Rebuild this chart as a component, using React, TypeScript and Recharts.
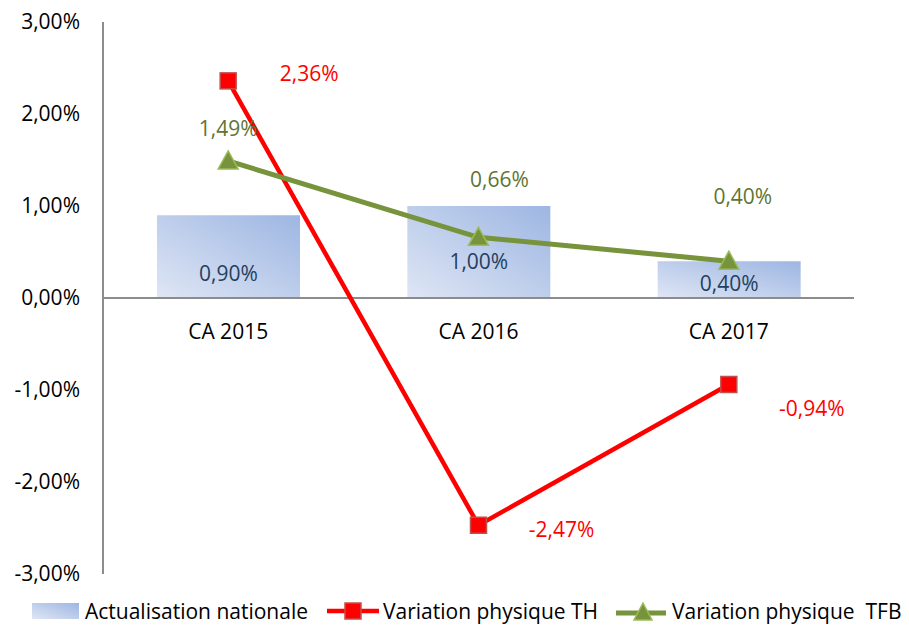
import { ComposedChart, Bar, Line, XAxis, YAxis, ReferenceLine, LabelList } from 'recharts';

const categories = ['CA 2015', 'CA 2016', 'CA 2017'];
const actualisation = [0.9, 1.0, 0.4];
const variationTH = [2.36, -2.47, -0.94];
const variationTFB = [1.49, 0.66, 0.4];
const yTicks = [-3, -2, -1, 0, 1, 2, 3];
const seriesNames = ['Actualisation nationale', 'Variation physique TH', 'Variation physique  TFB'];

// label nudges (dx, dy) per category, as placed by hand in the original
const barLabelShift = [[0, 19], [0, 11], [0, 6]];
const thLabelShift = [[81, -6], [83, 6], [83, 26]];
const tfbLabelShift = [[0, -31], [21, -56], [14, -63]];

const data = categories.map((cat, i) => ({
  cat,
  nat: actualisation[i],
  th: variationTH[i],
  tfb: variationTFB[i],
}));

const W = 909;
const H = 628;
const PLOT_TOP = 22;
const PLOT_BOTTOM = 574;
const FONT = '"Open Sans", sans-serif';
const Y_MIN = yTicks[0];
const Y_MAX = yTicks[yTicks.length - 1];
const zeroY = PLOT_TOP + ((PLOT_BOTTOM - PLOT_TOP) * Y_MAX) / (Y_MAX - Y_MIN);

const pct = (v: number) => v.toFixed(2).replace('.', ',') + '%';

const CategoryTick = ({ x, payload }: any) => (
  <text x={x} y={zeroY + 41} textAnchor="middle" fill="#000" fontSize={21} fontFamily={FONT}>
    {payload.value}
  </text>
);

const SquareDot = ({ cx, cy }: any) => (
  <rect x={cx - 8} y={cy - 8} width={16} height={16} fill="#ff0000" stroke="#c0504d" strokeWidth={1.5} />
);

const TriangleDot = ({ cx, cy }: any) => (
  <path
    d={`M${cx},${cy - 10} L${cx + 10},${cy + 8} L${cx - 10},${cy + 8} Z`}
    fill="#77933c"
    stroke="#9bbb59"
    strokeWidth={1.5}
  />
);

const barLabel = ({ x, y, width, height, value, index }: any) => (
  <text
    x={x + width / 2 + barLabelShift[index][0]}
    y={y + height / 2 + barLabelShift[index][1]}
    textAnchor="middle"
    dominantBaseline="middle"
    fill="#243f60"
    fontSize={21}
    fontFamily={FONT}
  >
    {pct(value)}
  </text>
);

const thLabel = ({ x, y, value, index }: any) => (
  <text
    x={x + thLabelShift[index][0]}
    y={y + thLabelShift[index][1]}
    textAnchor="middle"
    dominantBaseline="middle"
    fill="#ff0000"
    fontSize={21}
    fontFamily={FONT}
  >
    {pct(value)}
  </text>
);

const tfbLabel = ({ x, y, value, index }: any) => (
  <text
    x={x + tfbLabelShift[index][0]}
    y={y + tfbLabelShift[index][1]}
    textAnchor="middle"
    dominantBaseline="middle"
    fill="#5f7530"
    fontSize={21}
    fontFamily={FONT}
  >
    {pct(value)}
  </text>
);

function LegendRow() {
  const text = { fontSize: 21, color: '#000', display: 'inline-block' };
  return (
    <div
      style={{
        position: 'absolute',
        left: 32,
        top: 597,
        display: 'flex',
        alignItems: 'center',
        fontFamily: FONT,
        whiteSpace: 'pre',
      }}
    >
      <svg width={47} height={16} style={{ marginRight: 6 }}>
        <defs>
          <linearGradient id="legGrad" x1="0" y1="1" x2="1" y2="0">
            <stop offset="0%" stopColor="#dfe6f5" />
            <stop offset="100%" stopColor="#9db6e2" />
          </linearGradient>
        </defs>
        <rect x={0} y={0} width={47} height={16} fill="url(#legGrad)" />
      </svg>
      <span style={{ ...text, width: 242 }}>{seriesNames[0]}</span>
      <svg width={52} height={20} style={{ marginRight: 4 }}>
        <line x1={0} y1={10} x2={52} y2={10} stroke="#ff0000" strokeWidth={4.5} />
        <rect x={18} y={2} width={16} height={16} fill="#ff0000" stroke="#c0504d" strokeWidth={1.5} />
      </svg>
      <span style={{ ...text, width: 233 }}>{seriesNames[1]}</span>
      <svg width={50} height={20} style={{ marginRight: 6 }}>
        <line x1={0} y1={12} x2={50} y2={12} stroke="#77933c" strokeWidth={5} />
        <path d="M27,2 L36,19 L18,19 Z" fill="#77933c" stroke="#9bbb59" strokeWidth={1.5} />
      </svg>
      <span style={text}>{seriesNames[2]}</span>
    </div>
  );
}

export default function App() {
  return (
    <div style={{ position: 'relative', width: W, height: H, background: '#fff' }}>
      <style>{'body{margin:0}'}</style>
      <ComposedChart
        width={W}
        height={H}
        data={data}
        margin={{ top: PLOT_TOP, right: W - 854, left: 0, bottom: H - PLOT_BOTTOM - 30 }}
      >
        <defs>
          <linearGradient id="barGrad" x1="0" y1="1" x2="1" y2="0">
            <stop offset="0%" stopColor="#dfe6f5" />
            <stop offset="100%" stopColor="#9db6e2" />
          </linearGradient>
        </defs>
        <XAxis dataKey="cat" height={30} axisLine={false} tickLine={false} tick={<CategoryTick />} />
        <YAxis
          width={103}
          domain={[Y_MIN, Y_MAX]}
          ticks={yTicks}
          tickFormatter={pct}
          tickLine={false}
          tickSize={0}
          tickMargin={23}
          axisLine={{ stroke: '#8c8c8c', strokeWidth: 2 }}
          tick={{ fill: '#000', fontSize: 21, fontFamily: FONT }}
        />
        <ReferenceLine y={0} stroke="#8c8c8c" strokeWidth={2} />
        <Bar dataKey="nat" barSize={143} fill="url(#barGrad)" isAnimationActive={false}>
          <LabelList dataKey="nat" content={barLabel} />
        </Bar>
        <Line
          dataKey="th"
          stroke="#ff0000"
          strokeWidth={4.5}
          dot={<SquareDot />}
          activeDot={false}
          isAnimationActive={false}
        >
          <LabelList dataKey="th" content={thLabel} />
        </Line>
        <Line
          dataKey="tfb"
          stroke="#77933c"
          strokeWidth={5}
          dot={<TriangleDot />}
          activeDot={false}
          isAnimationActive={false}
        >
          <LabelList dataKey="tfb" content={tfbLabel} />
        </Line>
      </ComposedChart>
      <LegendRow />
    </div>
  );
}
